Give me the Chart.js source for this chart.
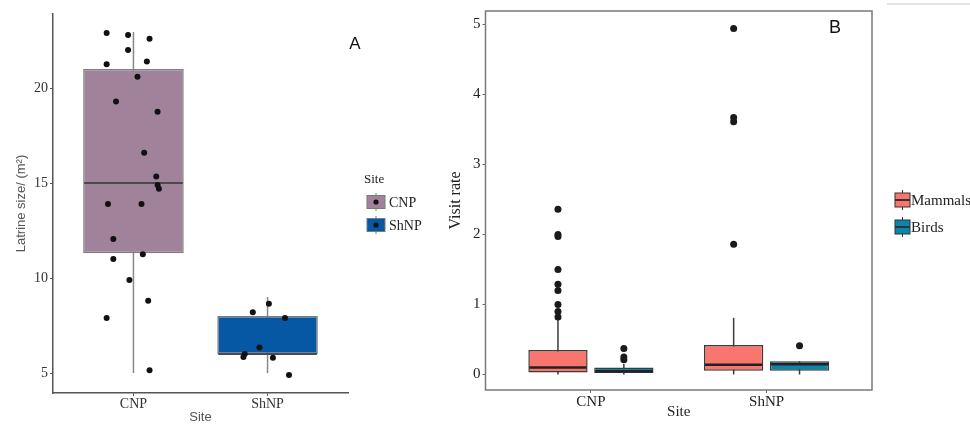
<!DOCTYPE html>
<html>
<head>
<meta charset="utf-8">
<script src="https://cdn.jsdelivr.net/npm/chart.js@4/dist/chart.umd.min.js"></script>
<style>
  html, body { margin: 0; padding: 0; background: #fff; }
  #wrap { position: relative; width: 970px; height: 425px; overflow: hidden; }
  #panel-a { position: absolute; left: 0; top: 0; }
  #panel-b { position: absolute; left: 440px; top: 0; }
  #edge { position: absolute; left: 887px; top: 3px; width: 83px; height: 2px; background: #e4e4e4; }
</style>
</head>
<body>
<div id="wrap">
  <canvas id="panel-a" width="440" height="425"></canvas>
  <canvas id="panel-b" width="530" height="425"></canvas>
  <div id="edge"></div>
</div>
<script>
const SITES = ["CNP", "ShNP"];

// panel A: latrine size per site
const latrineQ1 = [11.3, 6.0];
const latrineMedian = [15.0, 6.0];
const latrineQ3 = [21.0, 8.0];
const latrineLow = [5.0, 5.0];
const latrineHigh = [22.95, 9.0];
const cnpSize = [22.9, 22.8, 22.6, 22.0, 21.25, 21.4, 20.6, 19.3, 18.75, 16.6, 15.35, 14.9, 14.7, 13.9, 13.9, 12.05, 11.0, 11.26, 9.9, 8.8, 7.9, 5.15];
const cnpJitter = [-0.2, -0.04, 0.12, -0.04, -0.2, 0.1, 0.03, -0.13, 0.18, 0.08, 0.17, 0.18, 0.19, -0.19, 0.06, -0.15, -0.15, 0.07, -0.03, 0.11, -0.2, 0.12];
const shnpSize = [8.2, 8.65, 7.9, 6.35, 6.0, 5.85, 5.8, 4.9];
const shnpJitter = [-0.11, 0.01, 0.13, -0.06, -0.17, -0.18, 0.04, 0.16];
const latrineTicks = [5, 10, 15, 20];

// panel B: visit rate per site and visitor group
const mammalQ1 = [0.03, 0.055];
const mammalMedian = [0.1, 0.14];
const mammalQ3 = [0.35, 0.42];
const mammalLow = [0, 0];
const mammalHigh = [0.78, 0.81];
const mammalOutCNP = [0.82, 0.9, 1.0, 1.2, 1.29, 1.5, 1.97, 2.0, 2.36];
const mammalOutShNP = [1.86, 3.61, 3.67, 4.94];
const birdQ1 = [0.02, 0.055];
const birdMedian = [0.045, 0.145];
const birdQ3 = [0.1, 0.19];
const birdLow = [0, 0];
const birdHigh = [0.15, 0.19];
const birdOutCNP = [0.21, 0.25, 0.37];
const birdOutShNP = [0.41];
const visitTicks = [0, 1, 2, 3, 4, 5];

const siteColors = ["#a0839b", "#0657a4"];
const MAMMAL_COLOR = "#f8766d";
const BIRD_COLOR = "#0a86ae";
const DODGE = 0.1875;

const SERIF = "'Liberation Serif', 'DejaVu Serif', serif";
const SANS = "'Liberation Sans', Arial, sans-serif";

// whiskers under the boxes, medians on top of them
const boxPlugin = {
  id: "boxes",
  beforeDatasetsDraw(chart, args, opts) {
    const { ctx } = chart;
    const y = chart.scales.y;
    for (const set of opts.sets) {
      const meta = chart.getDatasetMeta(set.dataset);
      meta.data.forEach((bar, i) => {
        ctx.save();
        ctx.strokeStyle = set.whiskerColor;
        ctx.lineWidth = set.whiskerWidth;
        ctx.beginPath();
        ctx.moveTo(bar.x, y.getPixelForValue(set.high[i]));
        ctx.lineTo(bar.x, y.getPixelForValue(set.low[i]));
        ctx.stroke();
        ctx.restore();
      });
    }
  },
  afterDatasetDraw(chart, args, opts) {
    const set = opts.sets.find((s) => s.dataset === args.index);
    if (!set) return;
    const { ctx } = chart;
    const y = chart.scales.y;
    args.meta.data.forEach((bar, i) => {
      const py = y.getPixelForValue(set.median[i]);
      ctx.save();
      ctx.strokeStyle = set.medianColor;
      ctx.lineWidth = set.medianWidth;
      ctx.beginPath();
      ctx.moveTo(bar.x - bar.width / 2 + 1, py);
      ctx.lineTo(bar.x + bar.width / 2 - 1, py);
      ctx.stroke();
      ctx.restore();
    });
  },
};

const decorPlugin = {
  id: "decor",
  afterDraw(chart, args, opts) {
    const { ctx, chartArea } = chart;
    ctx.save();
    if (opts.frame) {
      ctx.strokeStyle = "#7a7a7a";
      ctx.lineWidth = 1.5;
      ctx.strokeRect(chartArea.left, chartArea.top, chartArea.right - chartArea.left, chartArea.bottom - chartArea.top);
    }
    ctx.fillStyle = "#111";
    ctx.textAlign = "center";
    ctx.textBaseline = "middle";
    ctx.font = opts.tag.font;
    ctx.fillText(opts.tag.text, opts.tag.x, opts.tag.y);
    opts.legend(ctx);
    ctx.restore();
  },
};

function legendA(ctx) {
  ctx.textAlign = "left";
  ctx.textBaseline = "middle";
  ctx.fillStyle = "#222";
  ctx.font = `13px ${SERIF}`;
  ctx.fillText("Site", 364, 180);
  SITES.forEach((site, i) => {
    const cy = 202 + i * 23;
    ctx.strokeStyle = "#7a7a7a";
    ctx.lineWidth = 1;
    ctx.beginPath();
    ctx.moveTo(376, cy - 9);
    ctx.lineTo(376, cy + 9);
    ctx.stroke();
    ctx.fillStyle = siteColors[i];
    ctx.fillRect(367, cy - 6.5, 18, 13);
    ctx.strokeRect(367, cy - 6.5, 18, 13);
    ctx.fillStyle = "#111";
    ctx.beginPath();
    ctx.arc(376, cy, 2.6, 0, Math.PI * 2);
    ctx.fill();
    ctx.fillStyle = "#222";
    ctx.font = `14px ${SERIF}`;
    ctx.fillText(site, 389, cy + 1);
  });
}

function legendB(ctx) {
  const items = [["Mammals", MAMMAL_COLOR], ["Birds", BIRD_COLOR]];
  ctx.textAlign = "left";
  ctx.textBaseline = "middle";
  items.forEach(([label, color], i) => {
    const cy = 200 + i * 27;
    ctx.strokeStyle = "#333";
    ctx.lineWidth = 1;
    ctx.beginPath();
    ctx.moveTo(462.5, cy - 10);
    ctx.lineTo(462.5, cy + 10);
    ctx.stroke();
    ctx.fillStyle = color;
    ctx.fillRect(455, cy - 7, 15, 14);
    ctx.strokeRect(455, cy - 7, 15, 14);
    ctx.lineWidth = 2;
    ctx.beginPath();
    ctx.moveTo(455, cy);
    ctx.lineTo(470, cy);
    ctx.stroke();
    ctx.fillStyle = "#222";
    ctx.font = `15px ${SERIF}`;
    ctx.fillText(label, 471, cy + 1);
  });
}

const pointsA = [
  ...cnpSize.map((v, i) => ({ x: 1 + cnpJitter[i], y: v })),
  ...shnpSize.map((v, i) => ({ x: 2 + shnpJitter[i], y: v })),
];

new Chart(document.getElementById("panel-a"), {
  type: "bar",
  data: {
    datasets: [
      {
        type: "scatter",
        data: pointsA,
        pointRadius: 3,
        pointBackgroundColor: "#111",
        pointBorderWidth: 0,
        order: 0,
      },
      {
        type: "bar",
        data: SITES.map((s, i) => ({ x: i + 1, y: [latrineQ1[i], latrineQ3[i]] })),
        backgroundColor: siteColors,
        borderColor: "#7d7d7d",
        borderWidth: 1.5,
        borderSkipped: false,
        barPercentage: 0.75,
        categoryPercentage: 1,
        order: 1,
      },
    ],
  },
  options: {
    responsive: false,
    animation: false,
    layout: { padding: { top: 14, right: 92, bottom: 0, left: 0 } },
    plugins: {
      legend: { display: false },
      tooltip: { enabled: false },
      boxes: {
        sets: [{
          dataset: 1, low: latrineLow, high: latrineHigh, median: latrineMedian,
          whiskerColor: "#888", whiskerWidth: 1.5, medianColor: "#4a4a4a", medianWidth: 2,
        }],
      },
      decor: { frame: false, tag: { text: "A", x: 355, y: 44, font: `17px ${SANS}` }, legend: legendA },
    },
    scales: {
      x: {
        type: "linear",
        min: 0.4,
        max: 2.6,
        offset: false,
        afterBuildTicks: (s) => { s.ticks = SITES.map((_, i) => ({ value: i + 1 })); },
        afterFit: (s) => { s.height = 32; },
        ticks: { callback: (v, i) => SITES[i], color: "#333", font: { family: SERIF, size: 14 }, padding: 0 },
        grid: { offset: false, drawOnChartArea: false, tickLength: 3, color: "#555" },
        border: { color: "#555", width: 1.5 },
        title: { display: true, text: "Site", color: "#555", font: { family: SANS, size: 13 }, padding: { top: 0, bottom: 0 } },
      },
      y: {
        min: 3.95,
        max: 23.9,
        afterBuildTicks: (s) => { s.ticks = latrineTicks.map((v) => ({ value: v })); },
        afterFit: (s) => { s.width = 53; },
        ticks: { color: "#333", font: { family: SERIF, size: 14 }, padding: 2 },
        grid: { drawOnChartArea: false, tickLength: 3, color: "#555" },
        border: { color: "#555", width: 1.5 },
        title: { display: true, text: "Latrine size/ (m²)", color: "#555", font: { family: SANS, size: 13 }, padding: { top: 14, bottom: 0 } },
      },
    },
  },
  plugins: [boxPlugin, decorPlugin],
});

const outliersB = [
  ...mammalOutCNP.map((v) => ({ x: 1 - DODGE, y: v })),
  ...mammalOutShNP.map((v) => ({ x: 2 - DODGE, y: v })),
  ...birdOutCNP.map((v) => ({ x: 1 + DODGE, y: v })),
  ...birdOutShNP.map((v) => ({ x: 2 + DODGE, y: v })),
];

new Chart(document.getElementById("panel-b"), {
  type: "bar",
  data: {
    datasets: [
      {
        type: "scatter",
        data: outliersB,
        pointRadius: 3.5,
        pointBackgroundColor: "#1a1a1a",
        pointBorderWidth: 0,
        order: 0,
      },
      {
        type: "bar",
        label: "Mammals",
        data: SITES.map((s, i) => ({ x: i + 1, y: [mammalQ1[i], mammalQ3[i]] })),
        backgroundColor: MAMMAL_COLOR,
        borderColor: "#3a3a3a",
        borderWidth: 1.5,
        borderSkipped: false,
        barPercentage: 0.9,
        categoryPercentage: 0.75,
        order: 1,
      },
      {
        type: "bar",
        label: "Birds",
        data: SITES.map((s, i) => ({ x: i + 1, y: [birdQ1[i], birdQ3[i]] })),
        backgroundColor: BIRD_COLOR,
        borderColor: "#3a3a3a",
        borderWidth: 1.5,
        borderSkipped: false,
        barPercentage: 0.9,
        categoryPercentage: 0.75,
        order: 2,
      },
    ],
  },
  options: {
    responsive: false,
    animation: false,
    layout: { padding: { top: 10.7, right: 98, bottom: 0, left: 0 } },
    plugins: {
      legend: { display: false },
      tooltip: { enabled: false },
      boxes: {
        sets: [
          { dataset: 1, low: mammalLow, high: mammalHigh, median: mammalMedian, whiskerColor: "#3a3a3a", whiskerWidth: 1.5, medianColor: "#222", medianWidth: 2.5 },
          { dataset: 2, low: birdLow, high: birdHigh, median: birdMedian, whiskerColor: "#3a3a3a", whiskerWidth: 1.5, medianColor: "#222", medianWidth: 2.5 },
        ],
      },
      decor: { frame: true, tag: { text: "B", x: 395, y: 28, font: `18px ${SANS}` }, legend: legendB },
    },
    scales: {
      x: {
        type: "linear",
        min: 0.4,
        max: 2.6,
        offset: false,
        afterBuildTicks: (s) => { s.ticks = SITES.map((_, i) => ({ value: i + 1 })); },
        afterFit: (s) => { s.height = 35; },
        ticks: { callback: (v, i) => SITES[i], color: "#222", font: { family: SERIF, size: 15 }, padding: 0 },
        grid: { offset: false, drawOnChartArea: false, tickLength: 3, color: "#666" },
        border: { display: false },
        title: { display: true, text: "Site", color: "#222", font: { family: SERIF, size: 15 }, padding: { top: 0, bottom: 4 } },
      },
      y: {
        min: -0.221,
        max: 5.19,
        afterBuildTicks: (s) => { s.ticks = visitTicks.map((v) => ({ value: v })); },
        afterFit: (s) => { s.width = 45.5; },
        ticks: { color: "#222", font: { family: SERIF, size: 15 }, padding: 2 },
        grid: { drawOnChartArea: false, tickLength: 3, color: "#666" },
        border: { display: false },
        title: { display: true, text: "Visit rate", color: "#222", font: { family: SERIF, size: 16 }, padding: { top: 6, bottom: 0 } },
      },
    },
  },
  plugins: [boxPlugin, decorPlugin],
});
</script>
</body>
</html>
